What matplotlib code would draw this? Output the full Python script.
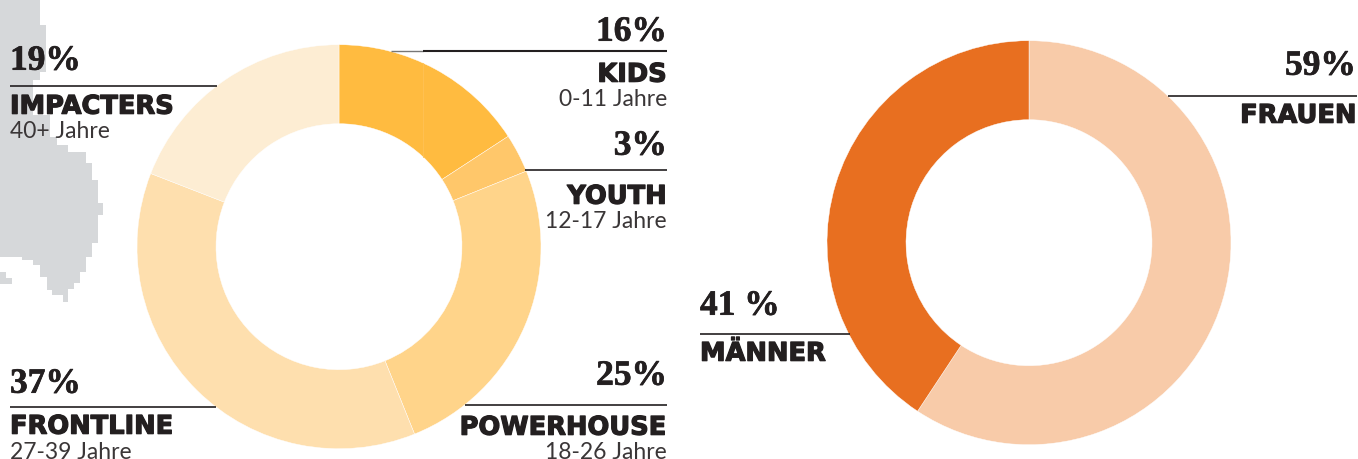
import matplotlib
matplotlib.use("Agg")
import matplotlib.pyplot as plt
import matplotlib.patheffects as pe

WIDTH = 1358
HEIGHT = 460

age_groups = ["KIDS", "YOUTH", "POWERHOUSE", "FRONTLINE", "IMPACTERS"]
age_labels = [16, 3, 25, 37, 19]
# wedge sizes, the printed labels are rounded
age_shares = [15.8, 3.1, 25.0, 37.0, 19.1]
age_ranges = ["0-11 Jahre", "12-17 Jahre", "18-26 Jahre", "27-39 Jahre", "40+ Jahre"]
age_colors = ["#FFBB40", "#FFC76A", "#FFD48A", "#FEDFAE", "#FDEDD3"]

gender_groups = ["FRAUEN", "MÄNNER"]
gender_labels = [59, 41]
gender_shares = [59.3, 40.7]
gender_colors = ["#F8CBA9", "#E86F20"]

# grey map scrap behind the left labels, in pixels from the top left
map_outline = [(0, 0), (40, 0), (40, 25), (46, 25), (46, 72), (40, 72), (40, 80), (33, 80),
               (33, 115), (50, 115), (50, 137), (57, 137), (57, 145), (68, 145), (68, 152),
               (86, 152), (86, 163), (92, 163), (92, 180), (98, 180), (98, 203), (103, 203),
               (103, 215), (98, 215), (98, 243), (92, 243), (92, 257), (86, 257), (86, 272),
               (80, 272), (80, 283), (74, 283), (74, 289), (68, 289), (68, 302), (63, 302),
               (63, 295), (52, 295), (52, 290), (47, 290), (47, 277), (40, 277), (40, 265),
               (33, 265), (33, 260), (22, 260), (22, 257), (0, 257)]
map_island = [(0, 272), (6, 272), (6, 278), (12, 278), (12, 284), (0, 284)]

DARK = "#231F20"


def py(y):
    return HEIGHT - y - 0.7


def donut(ax, values, colors, center):
    ax.pie(values, colors=colors, center=(center[0], py(center[1])), radius=202,
           startangle=90, counterclock=False, frame=True,
           wedgeprops=dict(width=79, edgecolor="white", linewidth=0.3))


def rule(ax, x0, x1, y, color=DARK, lw=1.2):
    ax.plot([x0, x1], [py(y), py(y)], color=color, lw=lw, solid_capstyle="butt", zorder=5)


def percent(ax, x, y, txt, ha):
    ax.text(x, py(y), txt, ha=ha, va="baseline", fontsize=25.5, color=DARK,
            family="Liberation Serif", fontweight="bold", zorder=6,
            path_effects=[pe.withStroke(linewidth=0.5, foreground=DARK)])


def head(ax, x, y, txt, ha):
    ax.text(x, py(y + 1), txt, ha=ha, va="baseline", fontsize=18.5, color=DARK,
            family="DejaVu Sans", fontweight="bold", zorder=6,
            path_effects=[pe.withStroke(linewidth=0.9, foreground=DARK)])


def sub(ax, x, y, txt, ha):
    ax.text(x, py(y), txt, ha=ha, va="baseline", fontsize=16.5, color="#3A3637",
            family="Lato", fontweight="normal", zorder=6)


def main():
    fig = plt.figure(figsize=(WIDTH / 100, HEIGHT / 100), dpi=100)
    ax = fig.add_axes([0, 0, 1, 1])

    ax.fill([p[0] for p in map_outline], [py(p[1]) for p in map_outline],
            color="#D6D8DA", lw=0, zorder=0)
    ax.fill([p[0] for p in map_island], [py(p[1]) for p in map_island],
            color="#D6D8DA", lw=0, zorder=0)

    donut(ax, age_shares, age_colors, (339, 247))
    donut(ax, gender_shares, gender_colors, (1029, 243))

    ax.set_xlim(0, WIDTH)
    ax.set_ylim(0, HEIGHT)
    ax.set_aspect("equal")
    ax.axis("off")

    # seam in the kids wedge
    ax.plot([423, 423], [py(63), py(157)], color="#FFC255", lw=0.6, zorder=4)

    rule(ax, 391, 423, 51, color="#777777", lw=1)
    rule(ax, 423, 667, 51, lw=1.5)
    rule(ax, 525, 667, 170)
    rule(ax, 465, 667, 405)
    rule(ax, 10, 216, 407)
    rule(ax, 10, 217, 86)
    rule(ax, 1168, 1357, 96)
    rule(ax, 700, 850, 334)

    percent(ax, 667, 41, f"{age_labels[0]}%", "right")
    percent(ax, 667, 155, f"{age_labels[1]}%", "right")
    percent(ax, 667, 385, f"{age_labels[2]}%", "right")
    percent(ax, 10, 393, f"{age_labels[3]}%", "left")
    percent(ax, 10, 70, f"{age_labels[4]}%", "left")
    percent(ax, 1356, 75, f"{gender_labels[0]}%", "right")
    percent(ax, 700, 315, f"{gender_labels[1]} %", "left")

    head(ax, 667, 81, age_groups[0], "right")
    head(ax, 667, 203, age_groups[1], "right")
    head(ax, 667, 434, age_groups[2], "right")
    head(ax, 10, 433, age_groups[3], "left")
    head(ax, 10, 113, age_groups[4], "left")
    head(ax, 1357, 122, gender_groups[0], "right")
    head(ax, 700, 360, gender_groups[1], "left")

    sub(ax, 667, 105, age_ranges[0], "right")
    sub(ax, 667, 227, age_ranges[1], "right")
    sub(ax, 667, 458, age_ranges[2], "right")
    sub(ax, 10, 458, age_ranges[3], "left")
    sub(ax, 10, 137, age_ranges[4], "left")

    fig.savefig("out.png", dpi=100)


if __name__ == '__main__':
    main()
